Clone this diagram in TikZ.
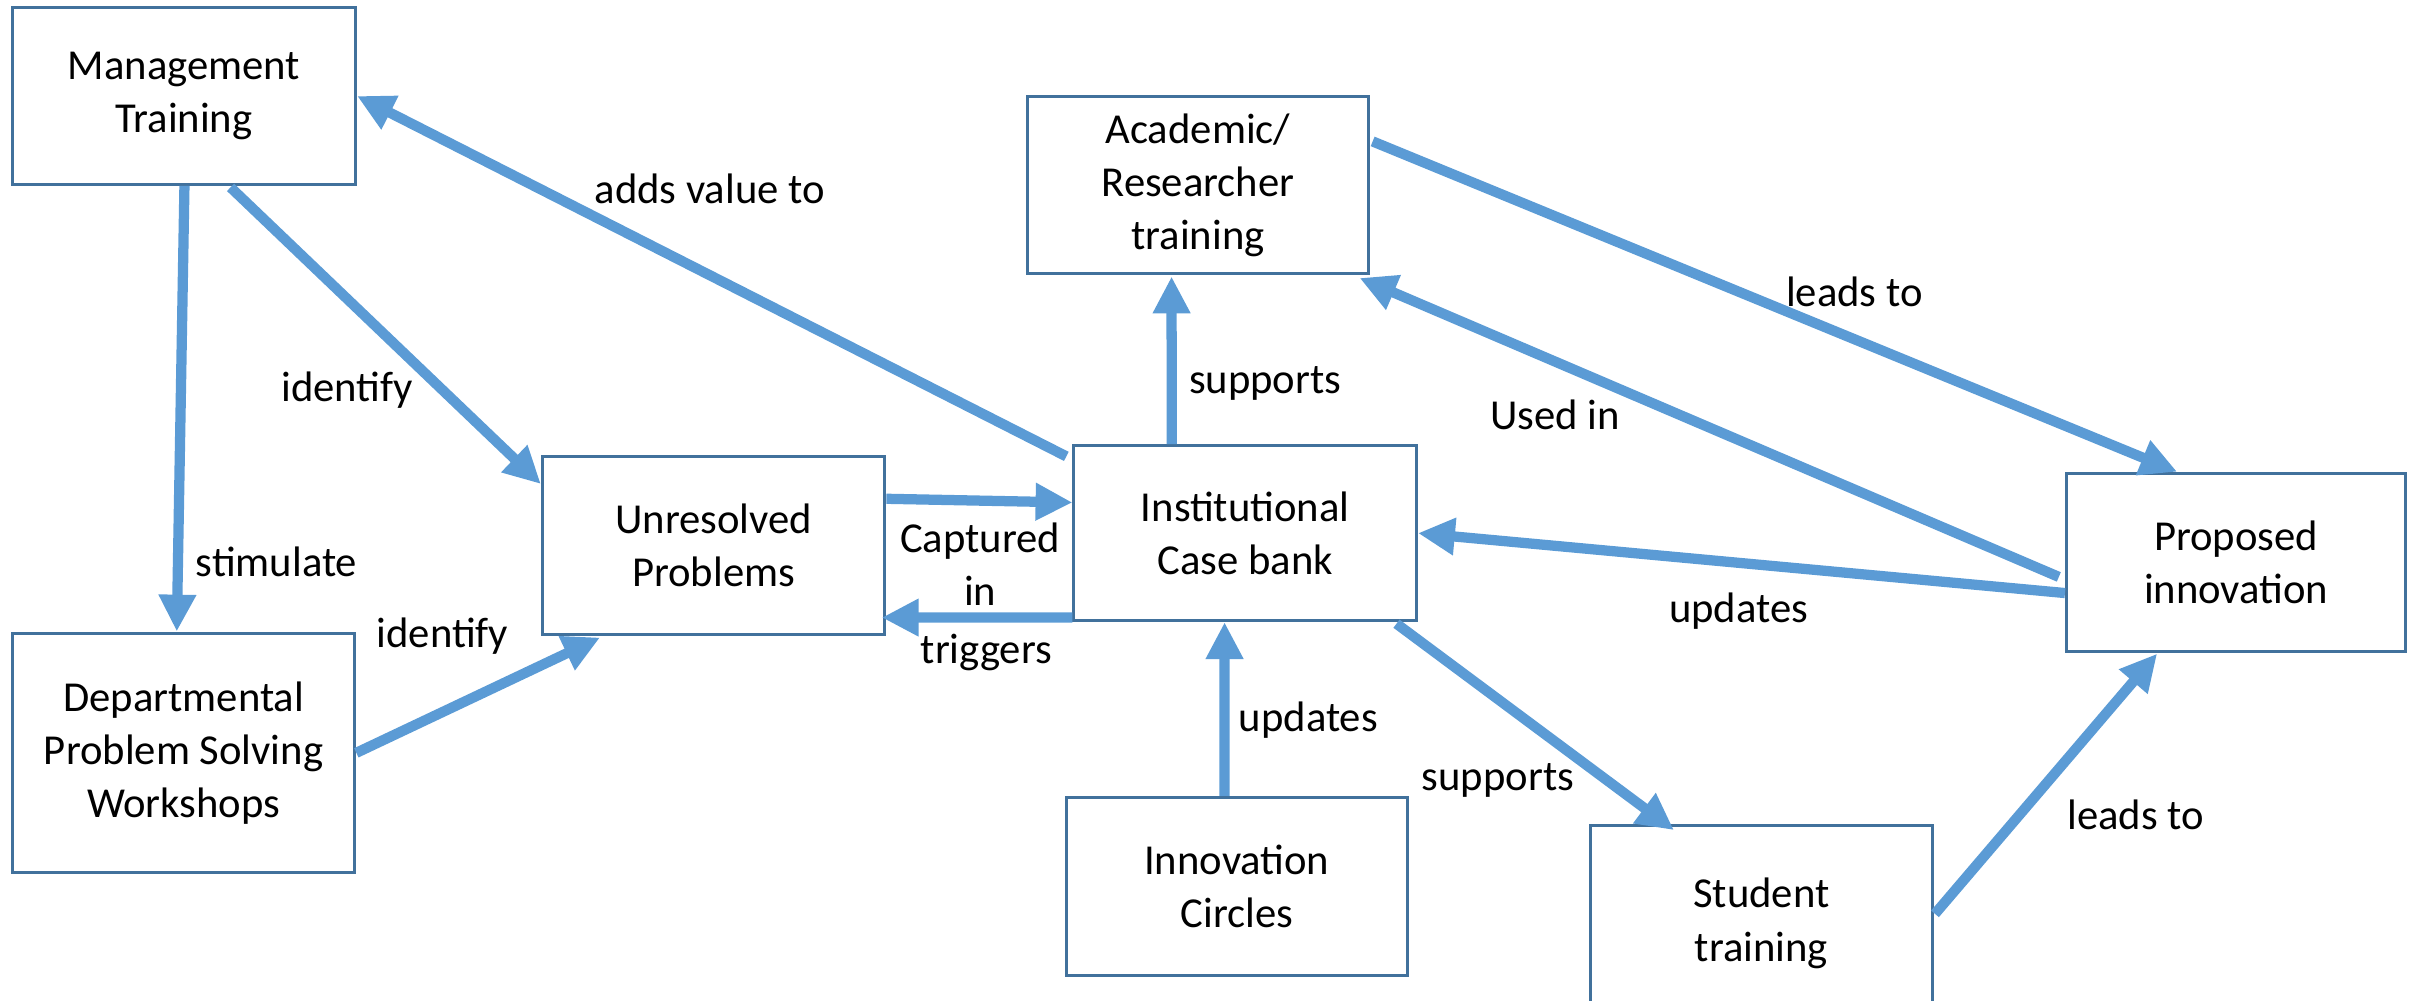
\documentclass[tikz,border=0pt]{standalone}
\usepackage{fontspec}
\setmainfont{Carlito}
\usetikzlibrary{arrows.meta,calc}
\definecolor{arrblue}{HTML}{5B9BD5}
\definecolor{boxblue}{HTML}{41719C}
\begin{document}
\begin{tikzpicture}[x=0.02cm,y=-0.02cm,
  box/.style={draw=boxblue,line width=1.1pt,fill=white,align=center,inner sep=0pt,
    font=\fontsize{15.8}{19.7}\selectfont},
  lbl/.style={align=center,inner sep=0pt,font=\fontsize{15.8}{19.7}\selectfont},
  arr/.style={draw=arrblue,line width=3.8pt,-{Triangle[length=0.48cm,width=0.46cm]}}]
\useasboundingbox (0,0) rectangle (1568,651.5);
\clip (0,0) rectangle (1568,651.5);

% boxes
\node[box,minimum width=4.47cm,minimum height=2.30cm] (mt) at (119.75,62.5) {Management\\Training};
\node[box,minimum width=4.46cm,minimum height=3.12cm] (dp) at (119.5,490) {Departmental\\Problem Solving\\Workshops};
\node[box,minimum width=4.46cm,minimum height=2.32cm] (up) at (464.5,355) {Unresolved\\Problems};
\node[box,minimum width=4.46cm,minimum height=2.28cm] (cb) at (810.5,347) {Institutional\\Case bank};
\node[box,minimum width=4.45cm,minimum height=2.30cm] (ar) at (779.75,120.5) {Academic/\\Researcher\\training};
\node[box,minimum width=4.42cm,minimum height=2.32cm] (pi) at (1455.5,366) {Proposed\\innovation};
\node[box,minimum width=4.44cm,minimum height=2.32cm] (ic) at (805,577) {Innovation\\Circles};
\node[box,minimum width=4.46cm,minimum height=2.55cm] (st) at (1146.5,601) {Student\\training};

% connectors
\draw[arr] ($(mt.south west)+(113,0)$) -- ($(dp.north west)+(108,0)$);
\draw[arr] ($(mt.south west)+(143,1)$) -- ($(up.north west)+(0,19)$);
\draw[arr] ($(cb.north west)+(-4,8)$) -- (mt.east);
\draw[arr] (dp.east) -- ($(up.south west)+(38.5,1)$);
\draw[arr] ($(up.north east)+(0,28.6)$) -- ($(cb.north west)+(0,38)$);
\draw[arr] ($(cb.south west)+(0,-3)$) -- ($(up.south east)+(-3,-12)$);
\draw[arr] ($(cb.north west)+(64.6,0)$) -- ($(ar.south west)+(95,1)$);
\draw[arr] ($(ar.north east)+(1.5,30)$) -- ($(pi.north west)+(73,0)$);
\draw[arr] ($(pi.west)+(-4,9.5)$) -- ($(ar.south east)+(-7,2)$);
\draw[arr] ($(pi.west)+(0,20)$) -- (cb.east);
\draw[arr] ($(ic.north west)+(104,0)$) -- ($(cb.south west)+(99,0)$);
\draw[arr] ($(cb.south east)+(-14,1)$) -- ($(st.north west)+(55.5,4)$);
\draw[arr] ($(st.north east)+(0.5,58.5)$) -- ($(pi.south west)+(60,0.5)$);

% labels
\node[lbl] (lstim) at (180,366) {stimulate};
\node[lbl] (lid1) at (226,254) {identify};
\node[lbl] (lid2) at (288,414) {identify};
\node[lbl] (ladd) at (462,123) {adds value to};
\node[lbl] (lcap) at (638,367) {Captured\\in};
\node[lbl] (ltrig) at (642,425) {triggers};
\node[lbl] (lsup1) at (823.5,249.5) {supports};
\node[lbl] (llead1) at (1207,190) {leads to};
\node[lbl] (lused) at (1012,270) {Used in};
\node[lbl] (lupd1) at (1131.6,398) {updates};
\node[lbl] (lupd2) at (851.6,468.7) {updates};
\node[lbl] (lsup2) at (975,508) {supports};
\node[lbl] (llead2) at (1390,530.6) {leads to};
\end{tikzpicture}
\end{document}
